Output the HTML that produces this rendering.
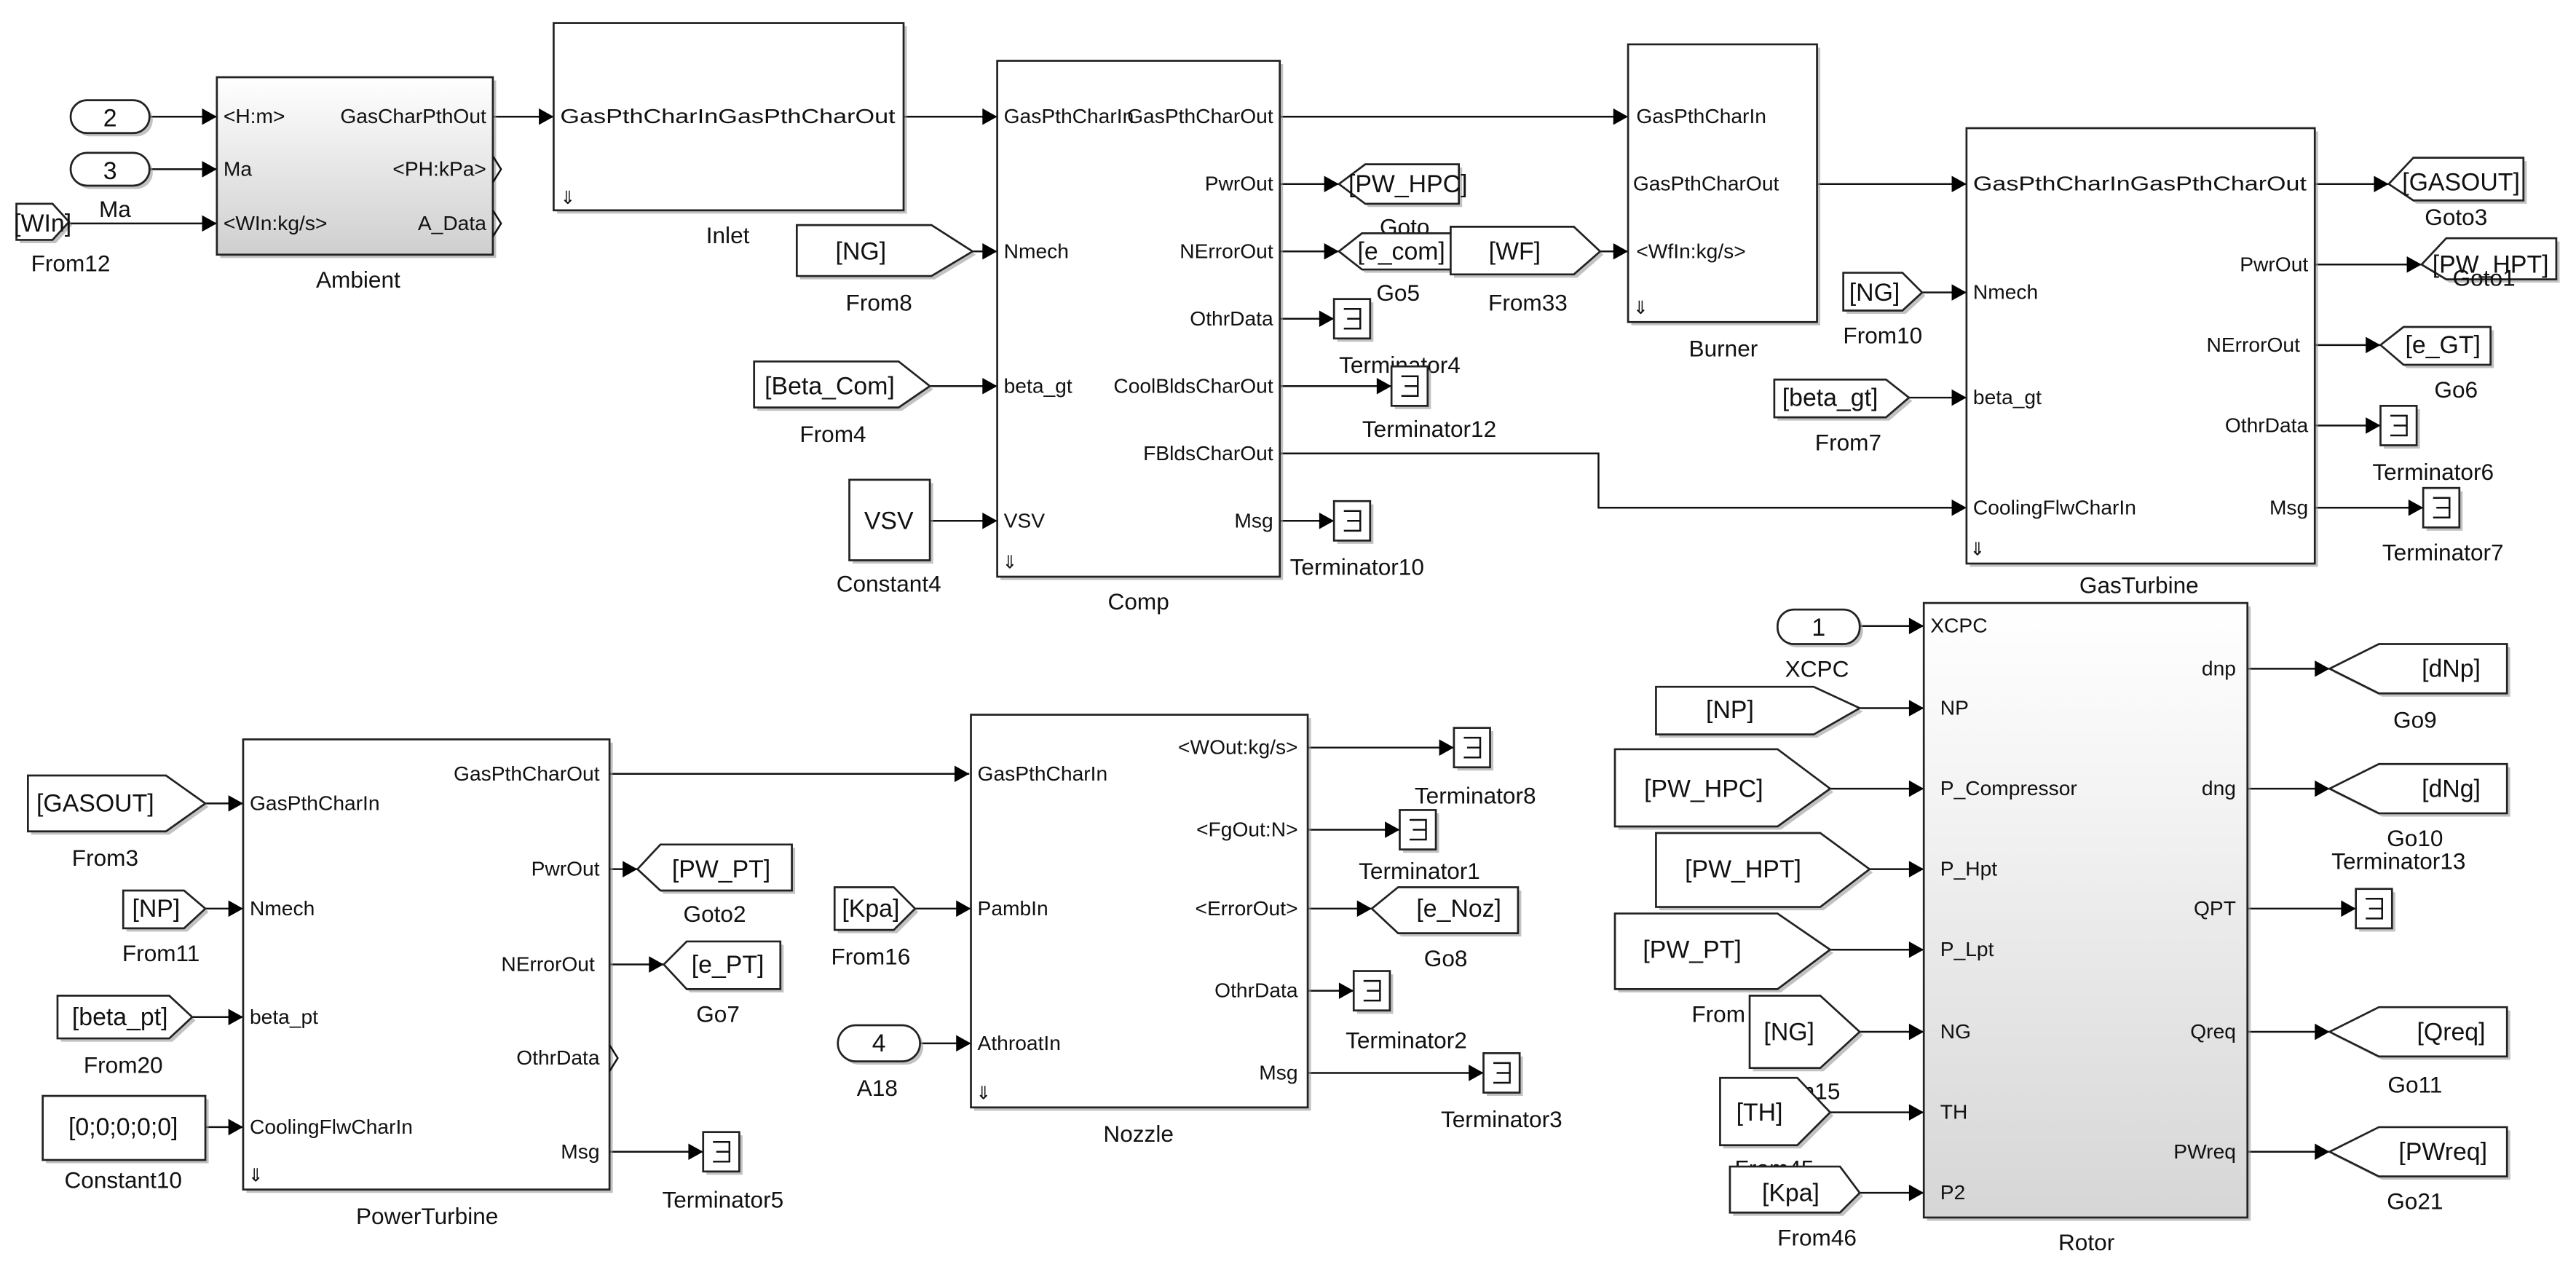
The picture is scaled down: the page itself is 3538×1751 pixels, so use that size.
<!DOCTYPE html>
<html><head><meta charset="utf-8"><style>
html,body{margin:0;padding:0;background:#fff}
svg{display:block}
text{font-family:"Liberation Sans",Arial,sans-serif;fill:#111}
.p{font-size:12.5px}
.n{font-size:14px;text-anchor:middle}
.t{font-size:15px;text-anchor:middle}
.r{text-anchor:end}
.b{fill:#fff;stroke:#222;stroke-width:1.2}
.sh{fill:#999;opacity:.6}
.l{stroke:#111;stroke-width:1.1;fill:none}
.a{fill:#000}
</style></head><body>
<svg width="3538" height="1751" viewBox="0 0 1568 776" preserveAspectRatio="none" xmlns="http://www.w3.org/2000/svg">
<defs>
<linearGradient id="g1" x1="0" y1="0" x2="0" y2="1"><stop offset="0" stop-color="#fff"/><stop offset="1" stop-color="#cfcfcf"/></linearGradient>
<linearGradient id="g2" x1="0" y1="0" x2="0" y2="1"><stop offset="0" stop-color="#fff"/><stop offset=".3" stop-color="#f4f4f4"/><stop offset="1" stop-color="#d6d6d6"/></linearGradient>
<g id="term"><rect class="sh" x="2" y="2" width="22" height="24"/><rect class="b" x="0" y="0" width="22" height="24"/><path class="l" d="M6 6H16V18H6M8 12H16"/></g>
</defs>

<!-- ===== Lines ===== -->
<g class="l">
<path d="M91 71H132M91 103H132M42 136H132M300 71H337M550 71H607"/>
<path d="M779 71H990M779 112H815M779 153H815M779 194H812M779 235H847M779 276H973V309H1196M779 317H812"/>
<path d="M592 153H607M566 235H607M566 317H607M974 153H991M1106 112H1197M1170 178H1197M1162 242H1197"/>
<path d="M1409 112H1454M1409 161H1474M1409 210H1449M1409 259H1449M1409 309H1475"/>
<path d="M1132 381H1171M1132 431H1171M1114 480H1171M1138 529H1171M1114 578H1171M1132 628H1171M1114 677H1171M1132 726H1171"/>
<path d="M1368 407H1418M1368 480H1418M1368 553H1434M1368 628H1418M1368 701H1418"/>
<path d="M125 489H148M125 553H148M117 619H148M125 686H148M371 471H590M371 529H388M371 587H404M371 701H428"/>
<path d="M557 553H591M560 635H591M796 455H885M796 505H852M796 553H835M796 603H824M796 653H903"/>
</g>
<!-- arrowheads -->
<g class="a">
<polygon points="123,66 132,71 123,76"/><polygon points="123,98 132,103 123,108"/><polygon points="123,131 132,136 123,141"/>
<polygon points="328,66 337,71 328,76"/><polygon points="598,66 607,71 598,76"/>
<polygon points="598,148 607,153 598,158"/><polygon points="598,230 607,235 598,240"/><polygon points="598,312 607,317 598,322"/>
<polygon points="982,66 991,71 982,76"/><polygon points="806,107 815,112 806,117"/><polygon points="806,148 815,153 806,158"/>
<polygon points="803,189 812,194 803,199"/><polygon points="838,230 847,235 838,240"/><polygon points="803,312 812,317 803,322"/>
<polygon points="982,148 991,153 982,158"/>
<polygon points="1188,107 1197,112 1188,117"/><polygon points="1188,173 1197,178 1188,183"/><polygon points="1188,237 1197,242 1188,247"/><polygon points="1188,304 1197,309 1188,314"/>
<polygon points="1445,107 1454,112 1445,117"/><polygon points="1465,156 1474,161 1465,166"/><polygon points="1440,205 1449,210 1440,215"/><polygon points="1440,254 1449,259 1440,264"/><polygon points="1466,304 1475,309 1466,314"/>
<polygon points="1162,376 1171,381 1162,386"/><polygon points="1162,426 1171,431 1162,436"/><polygon points="1162,475 1171,480 1162,485"/><polygon points="1162,524 1171,529 1162,534"/><polygon points="1162,573 1171,578 1162,583"/><polygon points="1162,623 1171,628 1162,633"/><polygon points="1162,672 1171,677 1162,682"/><polygon points="1162,721 1171,726 1162,731"/>
<polygon points="1409,402 1418,407 1409,412"/><polygon points="1409,475 1418,480 1409,485"/><polygon points="1425,548 1434,553 1425,558"/><polygon points="1409,623 1418,628 1409,633"/><polygon points="1409,696 1418,701 1409,706"/>
<polygon points="139,484 148,489 139,494"/><polygon points="139,548 148,553 139,558"/><polygon points="139,614 148,619 139,624"/><polygon points="139,681 148,686 139,691"/>
<polygon points="581,466 590,471 581,476"/><polygon points="379,524 388,529 379,534"/><polygon points="395,582 404,587 395,592"/><polygon points="419,696 428,701 419,706"/>
<polygon points="582,548 591,553 582,558"/><polygon points="582,630 591,635 582,640"/>
<polygon points="876,450 885,455 876,460"/><polygon points="843,500 852,505 843,510"/><polygon points="826,548 835,553 826,558"/><polygon points="815,598 824,603 815,608"/><polygon points="894,648 903,653 894,658"/>
</g>

<!-- ===== Ambient ===== -->
<rect class="sh" x="134" y="49" width="168" height="108"/>
<rect x="132" y="47" width="168" height="108" fill="url(#g1)" stroke="#222" stroke-width="1.2"/>
<text class="p" x="136" y="75">&lt;H:m&gt;</text><text class="p" x="136" y="107">Ma</text><text class="p" x="136" y="140">&lt;WIn:kg/s&gt;</text>
<text class="p r" x="296" y="75">GasCharPthOut</text><text class="p r" x="296" y="107">&lt;PH:kPa&gt;</text><text class="p r" x="296" y="140">A_Data</text>
<path class="l" d="M300 95L305 103L300 111M300 128L305 136L300 144" stroke-width="1.5"/>
<text class="n" x="218" y="175">Ambient</text>
<rect class="sh" x="45" y="63" width="48" height="20" rx="10"/><rect class="b" x="43" y="61" width="48" height="20" rx="10"/><text class="t" x="67" y="77">2</text>
<rect class="sh" x="45" y="95" width="48" height="20" rx="10"/><rect class="b" x="43" y="93" width="48" height="20" rx="10"/><text class="t" x="67" y="109">3</text>
<text class="n" x="70" y="132">Ma</text>
<polygon class="sh" points="12,126 34,126 44,137 34,148 12,148"/><polygon class="b" points="10,124 32,124 42,135 32,146 10,146"/><text class="t" x="26" y="141">[WIn]</text>
<text class="n" x="43" y="165">From12</text>

<!-- ===== Inlet ===== -->
<rect class="sh" x="339" y="16" width="213" height="114"/><rect class="b" x="337" y="14" width="213" height="114"/>
<text class="p" x="341" y="75" textLength="204" lengthAdjust="spacingAndGlyphs">GasPthCharInGasPthCharOut</text>
<text x="341" y="124" font-size="11" fill="#bbb">⇓</text>
<text class="n" x="443" y="148">Inlet</text>

<!-- ===== Comp ===== -->
<rect class="sh" x="609" y="39" width="172" height="314"/><rect class="b" x="607" y="37" width="172" height="314"/>
<text class="p" x="611" y="75">GasPthCharIn</text><text class="p r" x="775" y="75">GasPthCharOut</text>
<text class="p r" x="775" y="116">PwrOut</text>
<text class="p" x="611" y="157">Nmech</text><text class="p r" x="775" y="157">NErrorOut</text>
<text class="p r" x="775" y="198">OthrData</text>
<text class="p" x="611" y="239">beta_gt</text><text class="p r" x="775" y="239">CoolBldsCharOut</text>
<text class="p r" x="775" y="280">FBldsCharOut</text>
<text class="p" x="611" y="321">VSV</text><text class="p r" x="775" y="321">Msg</text>
<text x="610" y="346" font-size="11" fill="#bbb">⇓</text>
<text class="n" x="693" y="371">Comp</text>

<polygon class="sh" points="487,139 569,139 594,155 569,170 487,170"/><polygon class="b" points="485,137 567,137 592,153 567,168 485,168"/><text class="t" x="524" y="158">[NG]</text>
<text class="n" x="535" y="189">From8</text>
<polygon class="sh" points="461,222 549,222 568,237 549,250 461,250"/><polygon class="b" points="459,220 547,220 566,235 547,248 459,248"/><text class="t" x="505" y="240">[Beta_Com]</text>
<text class="n" x="507" y="269">From4</text>
<rect class="sh" x="519" y="294" width="49" height="49"/><rect class="b" x="517" y="292" width="49" height="49"/><text class="t" x="541" y="322">VSV</text>
<text class="n" x="541" y="360">Constant4</text>

<polygon class="sh" points="817,114 833,102 890,102 890,126 833,126"/><polygon class="b" points="815,112 831,100 888,100 888,124 831,124"/><text class="t" x="857" y="117">[PW_HPC]</text>
<text class="n" x="855" y="143">Goto</text>
<polygon class="sh" points="817,155 831,144 886,144 886,166 831,166"/><polygon class="b" points="815,153 829,142 884,142 884,164 829,164"/><text class="t" x="853" y="158">[e_com]</text>
<text class="n" x="851" y="183">Go5</text>
<use href="#term" x="812" y="182"/><text class="n" x="852" y="227">Terminator4</text>
<use href="#term" x="847" y="223"/><text class="n" x="870" y="266">Terminator12</text>
<use href="#term" x="812" y="305"/><text class="n" x="826" y="350">Terminator10</text>

<!-- ===== Burner ===== -->
<polygon class="sh" points="885,140 960,140 976,155 960,169 885,169"/><polygon class="b" points="883,138 958,138 974,153 958,167 883,167"/><text class="t" x="922" y="158">[WF]</text>
<text class="n" x="930" y="189">From33</text>
<rect class="sh" x="993" y="29" width="115" height="169"/><rect class="b" x="991" y="27" width="115" height="169"/>
<text class="p" x="996" y="75">GasPthCharIn</text><text class="p" x="994" y="116">GasPthCharOut</text><text class="p" x="996" y="157">&lt;WfIn:kg/s&gt;</text>
<text x="994" y="191" font-size="11" fill="#bbb">⇓</text>
<text class="n" x="1049" y="217">Burner</text>

<!-- ===== GasTurbine ===== -->
<rect class="sh" x="1199" y="80" width="212" height="265"/><rect class="b" x="1197" y="78" width="212" height="265"/>
<text class="p" x="1201" y="116" textLength="203" lengthAdjust="spacingAndGlyphs">GasPthCharInGasPthCharOut</text>
<text class="p r" x="1405" y="165">PwrOut</text>
<text class="p" x="1201" y="182">Nmech</text><text class="p r" x="1400" y="214">NErrorOut</text>
<text class="p" x="1201" y="246">beta_gt</text><text class="p r" x="1405" y="263">OthrData</text>
<text class="p" x="1201" y="313">CoolingFlwCharIn</text><text class="p r" x="1405" y="313">Msg</text>
<text x="1199" y="338" font-size="11" fill="#bbb">⇓</text>
<text class="n" x="1302" y="361">GasTurbine</text>
<polygon class="sh" points="1124,168 1160,168 1172,180 1160,191 1124,191"/><polygon class="b" points="1122,166 1158,166 1170,178 1158,189 1122,189"/><text class="t" x="1141" y="183">[NG]</text>
<text class="n" x="1146" y="209">From10</text>
<polygon class="sh" points="1082,233 1150,233 1164,244 1150,256 1082,256"/><polygon class="b" points="1080,231 1148,231 1162,242 1148,254 1080,254"/><text class="t" x="1114" y="247">[beta_gt]</text>
<text class="n" x="1125" y="274">From7</text>
<polygon class="sh" points="1456,114 1471,98 1538,98 1538,124 1471,124"/><polygon class="b" points="1454,112 1469,96 1536,96 1536,122 1469,122"/><text class="t" x="1498" y="116">[GASOUT]</text>
<text class="n" x="1495" y="137">Goto3</text>
<polygon class="sh" points="1476,163 1491,147 1558,147 1558,172 1491,172"/><polygon class="b" points="1474,161 1489,145 1556,145 1556,170 1489,170"/><text class="t" x="1516" y="166">[PW_HPT]</text>
<text class="n" x="1512" y="174">Goto1</text>
<polygon class="sh" points="1451,212 1465,201 1518,201 1518,224 1465,224"/><polygon class="b" points="1449,210 1463,199 1516,199 1516,222 1463,222"/><text class="t" x="1487" y="215">[e_GT]</text>
<text class="n" x="1495" y="242">Go6</text>
<use href="#term" x="1449" y="247"/><text class="n" x="1481" y="292">Terminator6</text>
<use href="#term" x="1475" y="297"/><text class="n" x="1487" y="341">Terminator7</text>

<!-- ===== Rotor ===== -->
<rect class="sh" x="1173" y="369" width="197" height="374"/>
<rect x="1171" y="367" width="197" height="374" fill="url(#g2)" stroke="#222" stroke-width="1.2"/>
<text class="p" x="1175" y="385">XCPC</text><text class="p" x="1181" y="435">NP</text><text class="p" x="1181" y="484">P_Compressor</text>
<text class="p" x="1181" y="533">P_Hpt</text><text class="p" x="1181" y="582">P_Lpt</text><text class="p" x="1181" y="632">NG</text>
<text class="p" x="1181" y="681">TH</text><text class="p" x="1181" y="730">P2</text>
<text class="p r" x="1361" y="411">dnp</text><text class="p r" x="1361" y="484">dng</text><text class="p r" x="1361" y="557">QPT</text>
<text class="p r" x="1361" y="632">Qreq</text><text class="p r" x="1361" y="705">PWreq</text>
<text class="n" x="1270" y="761">Rotor</text>
<rect class="sh" x="1084" y="373" width="50" height="21" rx="10"/><rect class="b" x="1082" y="371" width="50" height="21" rx="10"/><text class="t" x="1107" y="387">1</text>
<text class="n" x="1106" y="412">XCPC</text>
<text class="n" x="1046" y="466">From13</text>
<polygon class="sh" points="1010,420 1106,420 1134,433 1106,449 1010,449"/><polygon class="b" points="1008,418 1104,418 1132,431 1104,447 1008,447"/><text class="t" x="1053" y="437">[NP]</text>
<polygon class="sh" points="985,458 1084,458 1116,482 1084,505 985,505"/><polygon class="b" points="983,456 1082,456 1114,480 1082,503 983,503"/><text class="t" x="1037" y="485">[PW_HPC]</text>
<polygon class="sh" points="1010,509 1110,509 1140,531 1110,554 1010,554"/><polygon class="b" points="1008,507 1108,507 1138,529 1108,552 1008,552"/><text class="t" x="1061" y="534">[PW_HPT]</text>
<polygon class="sh" points="985,558 1084,558 1116,580 1084,604 985,604"/><polygon class="b" points="983,556 1082,556 1114,578 1082,602 983,602"/><text class="t" x="1030" y="583">[PW_PT]</text>
<text class="n" x="1046" y="622">From</text>
<polygon class="sh" points="1067,608 1110,608 1134,630 1110,652 1067,652"/><polygon class="b" points="1065,606 1108,606 1132,628 1108,650 1065,650"/><text class="t" x="1089" y="633">[NG]</text>
<text class="n" x="1096" y="669">From15</text>
<polygon class="sh" points="1049,658 1096,658 1116,679 1096,699 1049,699"/><polygon class="b" points="1047,656 1094,656 1114,677 1094,697 1047,697"/><text class="t" x="1071" y="682">[TH]</text>
<text class="n" x="1080" y="716">From45</text>
<polygon class="sh" points="1055,712 1122,712 1134,728 1122,740 1055,740"/><polygon class="b" points="1053,710 1120,710 1132,726 1120,738 1053,738"/><text class="t" x="1090" y="731">[Kpa]</text>
<text class="n" x="1106" y="758">From46</text>
<g>
<polygon class="sh" points="1420,409 1450,394 1528,394 1528,424 1450,424"/><polygon class="b" points="1418,407 1448,392 1526,392 1526,422 1448,422"/><text class="t" x="1492" y="412">[dNp]</text>
<text class="n" x="1470" y="443">Go9</text>
<polygon class="sh" points="1420,482 1450,467 1528,467 1528,497 1450,497"/><polygon class="b" points="1418,480 1448,465 1526,465 1526,495 1448,495"/><text class="t" x="1492" y="485">[dNg]</text>
<text class="n" x="1470" y="515">Go10</text><text class="n" x="1460" y="529">Terminator13</text>
<use href="#term" x="1434" y="541"/>
<polygon class="sh" points="1420,630 1450,615 1528,615 1528,645 1450,645"/><polygon class="b" points="1418,628 1448,613 1526,613 1526,643 1448,643"/><text class="t" x="1492" y="633">[Qreq]</text>
<text class="n" x="1470" y="665">Go11</text>
<polygon class="sh" points="1420,703 1450,688 1528,688 1528,718 1450,718"/><polygon class="b" points="1418,701 1448,686 1526,686 1526,716 1448,716"/><text class="t" x="1487" y="706">[PWreq]</text>
<text class="n" x="1470" y="736">Go21</text>
</g>

<!-- ===== PowerTurbine ===== -->
<rect class="sh" x="150" y="452" width="223" height="274"/><rect class="b" x="148" y="450" width="223" height="274"/>
<text class="p" x="152" y="493">GasPthCharIn</text><text class="p" x="152" y="557">Nmech</text><text class="p" x="152" y="623">beta_pt</text><text class="p" x="152" y="690">CoolingFlwCharIn</text>
<text class="p r" x="365" y="475">GasPthCharOut</text><text class="p r" x="365" y="533">PwrOut</text><text class="p r" x="362" y="591">NErrorOut</text>
<text class="p r" x="365" y="648">OthrData</text><text class="p r" x="365" y="705">Msg</text>
<path class="l" d="M371 636L376 644L371 652" stroke-width="1.5"/>
<text x="151" y="719" font-size="11" fill="#bbb">⇓</text>
<text class="n" x="260" y="745">PowerTurbine</text>
<polygon class="sh" points="19,474 103,474 127,491 103,508 19,508"/><polygon class="b" points="17,472 101,472 125,489 101,506 17,506"/><text class="t" x="58" y="494">[GASOUT]</text>
<text class="n" x="64" y="527">From3</text>
<polygon class="sh" points="77,544 114,544 127,555 114,567 77,567"/><polygon class="b" points="75,542 112,542 125,553 112,565 75,565"/><text class="t" x="95" y="558">[NP]</text>
<text class="n" x="98" y="585">From11</text>
<polygon class="sh" points="37,608 105,608 119,621 105,634 37,634"/><polygon class="b" points="35,606 103,606 117,619 103,632 35,632"/><text class="t" x="73" y="624">[beta_pt]</text>
<text class="n" x="75" y="653">From20</text>
<rect class="sh" x="28" y="669" width="99" height="39"/><rect class="b" x="26" y="667" width="99" height="39"/><text class="t" x="75" y="691">[0;0;0;0;0]</text>
<text class="n" x="75" y="723">Constant10</text>
<polygon class="sh" points="390,531 404,516 484,516 484,544 404,544"/><polygon class="b" points="388,529 402,514 482,514 482,542 402,542"/><text class="t" x="439" y="534">[PW_PT]</text>
<text class="n" x="435" y="561">Goto2</text>
<polygon class="sh" points="406,589 420,575 477,575 477,604 420,604"/><polygon class="b" points="404,587 418,573 475,573 475,602 418,602"/><text class="t" x="443" y="592">[e_PT]</text>
<text class="n" x="437" y="622">Go7</text>
<use href="#term" x="428" y="689"/><text class="n" x="440" y="735">Terminator5</text>

<!-- ===== Nozzle ===== -->
<rect class="sh" x="593" y="437" width="205" height="239"/><rect class="b" x="591" y="435" width="205" height="239"/>
<text class="p" x="595" y="475">GasPthCharIn</text><text class="p" x="595" y="557">PambIn</text><text class="p" x="595" y="639">AthroatIn</text>
<text class="p r" x="790" y="459">&lt;WOut:kg/s&gt;</text><text class="p r" x="790" y="509">&lt;FgOut:N&gt;</text><text class="p r" x="790" y="557">&lt;ErrorOut&gt;</text>
<text class="p r" x="790" y="607">OthrData</text><text class="p r" x="790" y="657">Msg</text>
<text x="594" y="669" font-size="11" fill="#bbb">⇓</text>
<text class="n" x="693" y="695">Nozzle</text>
<polygon class="sh" points="510,542 546,542 559,555 546,568 510,568"/><polygon class="b" points="508,540 544,540 557,553 544,566 508,566"/><text class="t" x="530" y="558">[Kpa]</text>
<text class="n" x="530" y="587">From16</text>
<rect class="sh" x="512" y="626" width="50" height="22" rx="11"/><rect class="b" x="510" y="624" width="50" height="22" rx="11"/><text class="t" x="535" y="640">4</text>
<text class="n" x="534" y="667">A18</text>
<use href="#term" x="885" y="443"/><text class="n" x="898" y="489">Terminator8</text>
<use href="#term" x="852" y="493"/><text class="n" x="864" y="535">Terminator1</text>
<polygon class="sh" points="837,555 853,542 926,542 926,570 853,570"/><polygon class="b" points="835,553 851,540 924,540 924,568 851,568"/><text class="t" x="888" y="558">[e_Noz]</text>
<text class="n" x="880" y="588">Go8</text>
<use href="#term" x="824" y="591"/><text class="n" x="856" y="638">Terminator2</text>
<use href="#term" x="903" y="641"/><text class="n" x="914" y="686">Terminator3</text>
</svg>
</body></html>
